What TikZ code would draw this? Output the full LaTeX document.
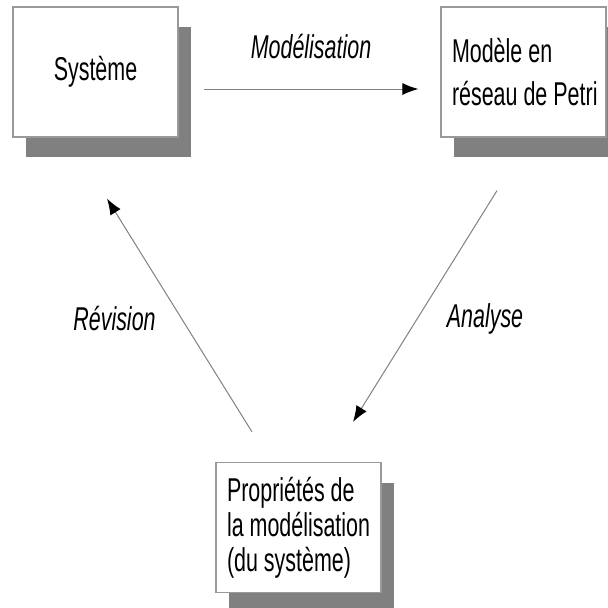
\documentclass[tikz,border=0pt]{standalone}
\usepackage{fontspec}
\newfontfamily\narrowsans[FakeStretch=0.65]{Liberation Sans}
\usetikzlibrary{shapes}
\usetikzlibrary{arrows.meta}
\usetikzlibrary{shadows}
\usetikzlibrary{calc}
\newcommand{\boxfont}{\narrowsans\fontsize{16.5pt}{17.5pt}\selectfont}
\tikzstyle{block} = [rectangle, draw=black!40, fill=white, line width=0.6pt,
    text width=71.5pt, inner xsep=5.5pt, align=left, minimum height=65pt,
    execute at begin node={\spaceskip=3pt plus 1pt\relax},
    drop shadow={shadow xshift=6.5pt, shadow yshift=-10pt, fill=black!50, opacity=1}]
\tikzstyle{line} = [draw=black!50, line width=0.5pt,
    -{Latex[length=8pt, width=6pt, color=black]}]
\tikzstyle{action} = [font=\boxfont\itshape]

\begin{document}
\begin{tikzpicture}[x=0.5pt, y=-0.5pt, node distance=214pt, font=\boxfont]
    \useasboundingbox (0,0) rectangle (608,607);
    % Place nodes
    \node [block, align=center] (systeme) at (95.5,72) {Système};
    \node [block, right of=systeme] (modele) {\mbox{Modèle en}\\[4pt]\mbox{réseau de Petri}};
    \node [block] (proprietes) at (298.5,527.5) {\mbox{Propriétés de}\\\mbox{la modélisation}\\\mbox{(du système)}};
    % Draw edges
    \path [line] ($(systeme.east)+(25,17)$) -- ($(modele.west)+(-22,17)$)
        node [action, midway, yshift=21pt] {Modélisation};
    \path [line] ($(modele.south)+(-26.5,53)$) -- ($(proprietes.north)+(54.5,-40)$)
        node [action, midway, xshift=30pt, yshift=-6.5pt] {Analyse};
    \path [line] ($(proprietes.north)+(-46.5,-30)$) -- ($(systeme.south)+(11.5,61)$)
        node [action, midway, xshift=-32.5pt, yshift=-1.75pt] {Révision};
\end{tikzpicture}
\end{document}
